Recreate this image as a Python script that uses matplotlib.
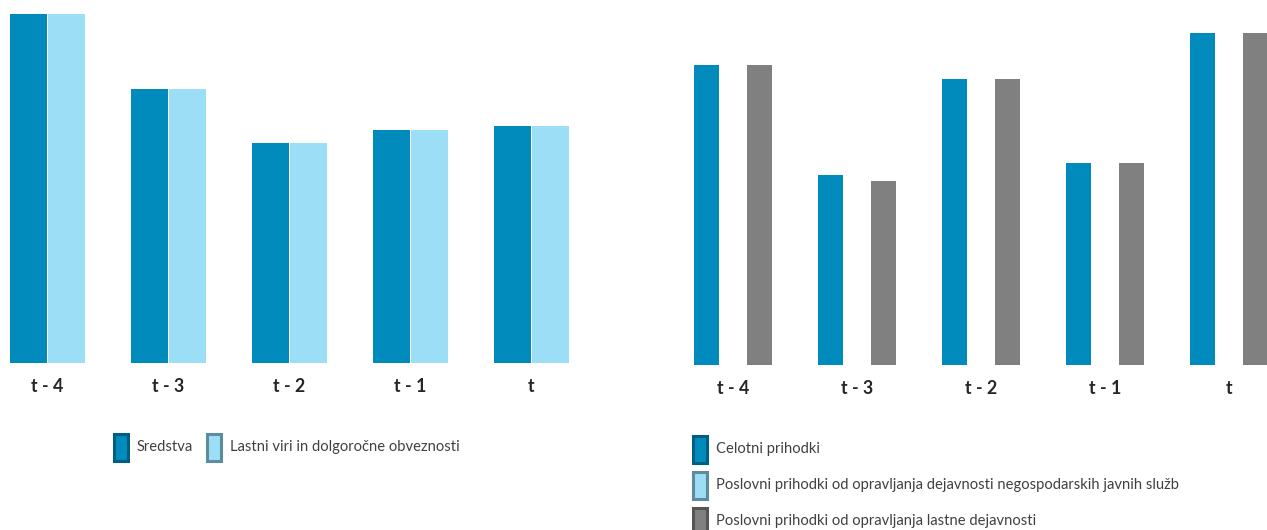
import matplotlib.pyplot as plt
from matplotlib.patches import Rectangle
import numpy as np

# data (arbitrary units, bar heights)
periods = ["t - 4", "t - 3", "t - 2", "t - 1", "t"]

left_names = ["Sredstva", "Lastni viri in dolgoročne obveznosti"]
sredstva = [349, 274, 220, 233, 237]
lastni_viri = [349, 274, 220, 233, 237]

right_names = ["Celotni prihodki",
               "Poslovni prihodki od opravljanja dejavnosti negospodarskih javnih služb",
               "Poslovni prihodki od opravljanja lastne dejavnosti"]
celotni = [300, 190, 286, 202, 332]
negosp = [0, 0, 0, 0, 0]
lastna = [300, 184, 286, 202, 332]

blue = "#008bbc"
light = "#9cdef5"
gray = "#808080"
edges = ["#005f80", "#5e8c9c", "#555555"]

plt.rcParams['font.family'] = ['Lato', 'DejaVu Sans']

W, H = 1267, 530
fig = plt.figure(figsize=(W / 100, H / 100), dpi=100)

def px_axes(x0, y0, x1, y1):
    # pixel box (top-left origin) -> figure axes
    return fig.add_axes([x0 / W, 1 - y1 / H, (x1 - x0) / W, (y1 - y0) / H])

x = np.arange(len(periods))

# left chart
ax1 = px_axes(-1, 5, 604, 363)
w1 = 0.306
ax1.bar(x - 0.159, sredstva, w1, color=blue, edgecolor="none")
ax1.bar(x + 0.159, lastni_viri, w1, color=light, edgecolor="none")
ax1.set_xlim(-0.4, 4.6)
ax1.set_ylim(0, 358)

# right chart
ax2 = px_axes(660, 5, 1267, 365)
w2 = 0.2
ax2.bar(x - 0.214, celotni, w2, color=blue, edgecolor="none")
ax2.bar(x, negosp, w2, color=light, edgecolor="none")
ax2.bar(x + 0.214, lastna, w2, color=gray, edgecolor="none")
ax2.set_xlim(-0.589, 4.306)
ax2.set_ylim(0, 360)

for ax in (ax1, ax2):
    ax.set_xticks(x)
    ax.set_xticklabels(periods, fontsize=12.8, fontweight="bold", color="#262626")
    ax.tick_params(axis="x", length=0, pad=11)
    ax.set_yticks([])
    for s in ax.spines.values():
        s.set_visible(False)

# legends drawn by hand to match the reference layout
def legend_item(px, py, color, edge, label):
    fig.patches.append(Rectangle((px / W, 1 - (py + 14) / H), 14 / W, 27 / H,
                                 facecolor=color, edgecolor=edge, linewidth=2.2,
                                 transform=fig.transFigure))
    fig.text((px + 23) / W, 1 - py / H, label, fontsize=10.6, color="#404040",
             va="center", ha="left")

legend_item(114, 447, blue, edges[0], left_names[0])
legend_item(207, 447, light, edges[1], left_names[1])

legend_item(693, 449, blue, edges[0], right_names[0])
legend_item(693, 485, light, edges[1], right_names[1])
legend_item(693, 521, gray, edges[2], right_names[2])

fig.savefig("out.png", dpi=100)
